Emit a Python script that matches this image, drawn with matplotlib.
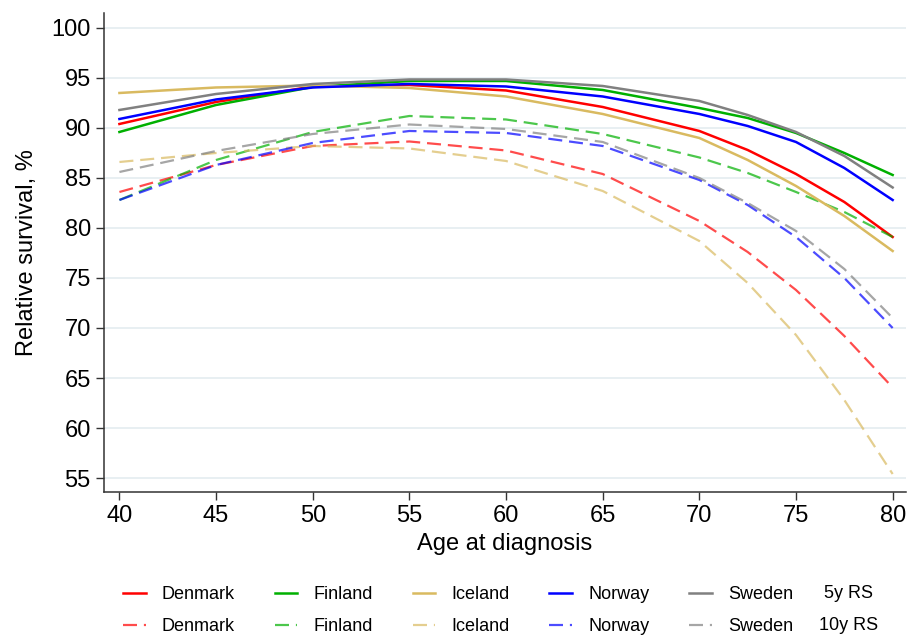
import matplotlib
matplotlib.use("Agg")
import matplotlib.pyplot as plt

plt.rcParams['font.family'] = ['Liberation Sans', 'DejaVu Sans']

ages = [40, 45, 50, 55, 60, 65, 70, 72.5, 75, 77.5, 80]
countries = ["Denmark", "Finland", "Iceland", "Norway", "Sweden"]
colors = ["#FF0000", "#00B000", "#D9BA60", "#0000FF", "#808080"]

rs5_denmark = [90.4, 92.6, 94.15, 94.3, 93.75, 92.1, 89.7, 87.8, 85.4, 82.6, 79.1]
rs5_finland = [89.6, 92.3, 94.1, 94.7, 94.7, 93.8, 92.0, 91.0, 89.5, 87.5, 85.3]
rs5_iceland = [93.5, 94.05, 94.25, 94.0, 93.15, 91.4, 89.0, 86.8, 84.2, 81.2, 77.7]
rs5_norway = [90.9, 92.85, 94.05, 94.4, 94.15, 93.15, 91.4, 90.2, 88.6, 86.0, 82.8]
rs5_sweden = [91.8, 93.4, 94.4, 94.85, 94.85, 94.2, 92.7, 91.3, 89.6, 87.2, 84.05]

rs10_denmark = [83.6, 86.3, 88.2, 88.65, 87.75, 85.4, 80.7, 77.6, 73.8, 69.2, 64.05]
rs10_finland = [82.8, 86.8, 89.6, 91.2, 90.85, 89.4, 87.05, 85.5, 83.6, 81.6, 79.1]
rs10_iceland = [86.6, 87.5, 88.2, 87.95, 86.7, 83.7, 78.7, 74.5, 69.3, 62.8, 55.4]
rs10_norway = [82.8, 86.3, 88.5, 89.7, 89.5, 88.2, 84.8, 82.3, 79.1, 75.0, 70.0]
rs10_sweden = [85.6, 87.7, 89.4, 90.35, 89.9, 88.6, 85.0, 82.5, 79.7, 75.9, 71.0]

yticks = [55, 60, 65, 70, 75, 80, 85, 90, 95, 100]
xticks = [40, 45, 50, 55, 60, 65, 70, 75, 80]
row_labels = ["5y RS", "10y RS"]

rs5 = [rs5_denmark, rs5_finland, rs5_iceland, rs5_norway, rs5_sweden]
rs10 = [rs10_denmark, rs10_finland, rs10_iceland, rs10_norway, rs10_sweden]

fig = plt.figure(figsize=(9.08, 6.36), dpi=100)
ax = fig.add_axes([0.1145, 0.2264, 0.8835, 0.7532])

dash = (0, (6.3, 3.1))
handles = []
labels = []
for name, col, s5, s10 in zip(countries, colors, rs5, rs10):
    l1, = ax.plot(ages, s5, color=col, lw=1.8, solid_joinstyle='round')
    l2, = ax.plot(ages, s10, color=col, lw=1.6, ls=dash, alpha=0.7, dash_joinstyle='round')
    handles += [l1, l2]
    labels += [name, name]

ax.set_xlim(39.2, 80.7)
ax.set_ylim(53.6, 101.5)
ax.set_xticks(xticks)
ax.set_yticks(yticks)
ax.grid(axis='y', color='#E6EEF1', lw=1.3)
ax.set_axisbelow(True)
for s in ['top', 'right']:
    ax.spines[s].set_visible(False)
for s in ['left', 'bottom']:
    ax.spines[s].set_color('#333333')
    ax.spines[s].set_linewidth(1.1)
ax.tick_params(axis='both', direction='out', length=5.5, width=1.0, color='#333333',
               labelsize=17, pad=4)
ax.set_xlabel("Age at diagnosis", fontsize=17, labelpad=4)
ax.set_ylabel("Relative survival, %", fontsize=17, labelpad=10)

fig.legend(handles, labels, ncol=5, loc='center left',
           bbox_to_anchor=(123 / 908, 1 - 610.5 / 636), frameon=False,
           fontsize=13, handlelength=1.25, handletextpad=0.9,
           columnspacing=2.2, labelspacing=0.85, borderpad=0, borderaxespad=0)
fig.text(849 / 908, 1 - 593 / 636, row_labels[0], fontsize=13, ha='center', va='center')
fig.text(849 / 908, 1 - 626 / 636, row_labels[1], fontsize=13, ha='center', va='center')

fig.savefig("out.png", dpi=100)
